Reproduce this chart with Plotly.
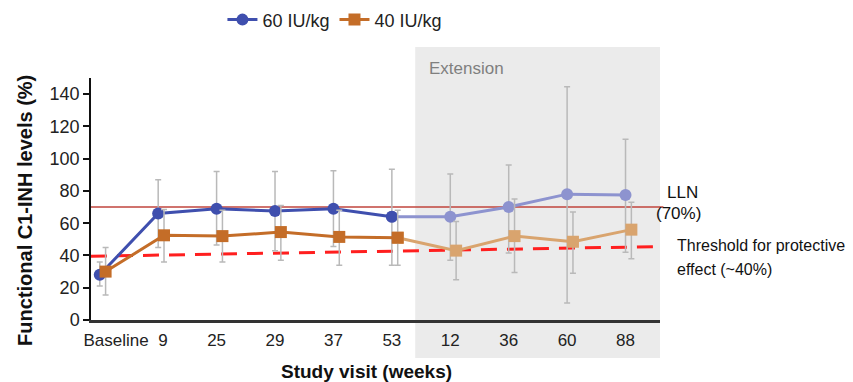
import plotly.graph_objects as go

# ---------------- data ----------------
categories = ["Baseline", "9", "25", "29", "37", "53", "12", "36", "60", "88"]

dose60_mean = [28, 66, 69, 67.5, 69, 64, 64, 70, 78, 77.5]
dose60_upper = [36, 87, 92, 92, 92.5, 93.5, 90.5, 96, 144.5, 112]
dose60_lower = [21, 45, 46.5, 43, 45.5, 34, 37, 41.5, 10.5, 42]

dose40_mean = [30, 52.5, 52, 54.5, 51.5, 51, 43, 52, 48.5, 56]
dose40_upper = [45, 68.5, 68, 71, 68, 68, 61, 75, 67, 73]
dose40_lower = [15.5, 36, 36, 37, 34, 34, 25, 29.5, 29, 38]

lln_value = 70
threshold_start, threshold_end = 39.5, 45.5
y_ticks = [0, 20, 40, 60, 80, 100, 120, 140]
main_count = 6  # core study visits (Baseline .. 53); the rest are Extension

# ---------------- styling ----------------
FONT = "Liberation Sans, Arial, sans-serif"
BLUE, BLUE_EXT = "#3f4fae", "#8d93cf"
ORANGE, ORANGE_EXT = "#c46d28", "#d9a46e"
ERR = "#b9b9b9"
ORANGE_SHIFT = 0.1

x_idx = list(range(len(categories)))


def err(mean, upper, lower):
    return [u - m for m, u in zip(mean, upper)], [m - l for m, l in zip(mean, lower)]


b_plus, b_minus = err(dose60_mean, dose60_upper, dose60_lower)
o_plus, o_minus = err(dose40_mean, dose40_upper, dose40_lower)

fig = go.Figure()

# extension lines (light), starting at last core visit
s = main_count - 1
fig.add_trace(go.Scatter(
    x=x_idx[s:], y=dose60_mean[s:], mode="lines+markers",
    line=dict(color=BLUE_EXT, width=3),
    marker=dict(symbol="circle", size=12, color=BLUE_EXT),
    error_y=dict(type="data", symmetric=False,
                 array=[None] + b_plus[s + 1:], arrayminus=[None] + b_minus[s + 1:],
                 color=ERR, thickness=1.5, width=3),
    showlegend=False, hoverinfo="skip"))
fig.add_trace(go.Scatter(
    x=[i + ORANGE_SHIFT for i in x_idx[s:]], y=dose40_mean[s:], mode="lines+markers",
    line=dict(color=ORANGE_EXT, width=3),
    marker=dict(symbol="square", size=12, color=ORANGE_EXT),
    error_y=dict(type="data", symmetric=False,
                 array=[None] + o_plus[s + 1:], arrayminus=[None] + o_minus[s + 1:],
                 color=ERR, thickness=1.5, width=3),
    showlegend=False, hoverinfo="skip"))

# core study (dark)
fig.add_trace(go.Scatter(
    x=x_idx[:main_count], y=dose60_mean[:main_count], mode="lines+markers",
    name="60 IU/kg",
    line=dict(color=BLUE, width=3),
    marker=dict(symbol="circle", size=12, color=BLUE),
    error_y=dict(type="data", symmetric=False,
                 array=b_plus[:main_count], arrayminus=b_minus[:main_count],
                 color=ERR, thickness=1.5, width=3)))
fig.add_trace(go.Scatter(
    x=[i + ORANGE_SHIFT for i in x_idx[:main_count]], y=dose40_mean[:main_count],
    mode="lines+markers", name="40 IU/kg",
    line=dict(color=ORANGE, width=3),
    marker=dict(symbol="square", size=12, color=ORANGE),
    error_y=dict(type="data", symmetric=False,
                 array=o_plus[:main_count], arrayminus=o_minus[:main_count],
                 color=ERR, thickness=1.5, width=3)))

x_range = [-0.15, 9.59]

shapes = [
    # Extension shaded panel
    dict(type="rect", xref="x", yref="paper", x0=5.4, x1=x_range[1],
         y0=-0.157, y1=1.128, fillcolor="#ebebeb", line=dict(width=0), layer="below"),
    # LLN line
    dict(type="line", xref="paper", yref="y", x0=0, x1=1.006, y0=lln_value, y1=lln_value,
         line=dict(color="#c0443c", width=1.6), layer="between"),
    # threshold dashed line
    dict(type="line", xref="paper", yref="y", x0=0, x1=1.0,
         y0=threshold_start, y1=threshold_end,
         line=dict(color="#ff1f1f", width=3, dash="16px,10px"), layer="between"),
]

annotations = [
    dict(text="Extension", xref="paper", yref="paper", x=0.59, y=1.041,
         xanchor="left", yanchor="middle", showarrow=False,
         font=dict(family=FONT, size=17, color="#7f7f7f")),
    dict(text="LLN", xref="paper", yref="paper", x=1.008, y=0.525,
         xanchor="left", yanchor="middle", showarrow=False,
         font=dict(family=FONT, size=17, color="#111")),
    dict(text="(70%)", xref="paper", yref="paper", x=0.99, y=0.442,
         xanchor="left", yanchor="middle", showarrow=False,
         font=dict(family=FONT, size=17, color="#111")),
    dict(text="Threshold for protective", xref="paper", yref="paper", x=1.027, y=0.306,
         xanchor="left", yanchor="middle", showarrow=False,
         font=dict(family=FONT, size=16, color="#111")),
    dict(text="effect (~40%)", xref="paper", yref="paper", x=1.027, y=0.207,
         xanchor="left", yanchor="middle", showarrow=False,
         font=dict(family=FONT, size=16, color="#111")),
    dict(text="<b>Functional C1-INH levels (%)</b>", xref="paper", yref="paper",
         x=-0.116, y=0.455, textangle=-90, xanchor="center", yanchor="middle",
         showarrow=False, font=dict(family=FONT, size=20, color="#111")),
    dict(text="<b>Study visit (weeks)</b>", xref="paper", yref="paper",
         x=0.485, y=-0.211, xanchor="center", yanchor="middle",
         showarrow=False, font=dict(family=FONT, size=19, color="#111")),
]

tick_pos = [0.28, 1.08] + x_idx[2:]

fig.update_layout(
    width=853, height=382,
    margin=dict(l=91, r=193, t=78, b=62, autoexpand=False),
    paper_bgcolor="white", plot_bgcolor="rgba(0,0,0,0)",
    font=dict(family=FONT, size=17, color="#222"),
    shapes=shapes, annotations=annotations,
    legend=dict(orientation="h", x=0.231, y=1.24, xanchor="left", yanchor="middle",
                font=dict(family=FONT, size=18, color="#222"),
                bgcolor="rgba(0,0,0,0)", itemwidth=30, traceorder="normal"),
    xaxis=dict(range=x_range, tickmode="array", tickvals=tick_pos, ticktext=categories,
               showline=True, linecolor="#333", linewidth=2.5, ticks="",
               showgrid=False, zeroline=False, ticklabelstandoff=3,
               tickfont=dict(family=FONT, size=17, color="#222")),
    yaxis=dict(range=[0, 150], tickmode="array", tickvals=y_ticks,
               showline=True, linecolor="#111", linewidth=1.5,
               ticks="outside", ticklen=6, tickwidth=1.5, tickcolor="#111",
               showgrid=False, zeroline=False,
               tickfont=dict(family=FONT, size=18, color="#222")),
)

fig.write_html(
    "out.html",
    config={"displayModeBar": False},
    post_script="document.body.style.margin='0';document.body.style.overflow='hidden';",
)
